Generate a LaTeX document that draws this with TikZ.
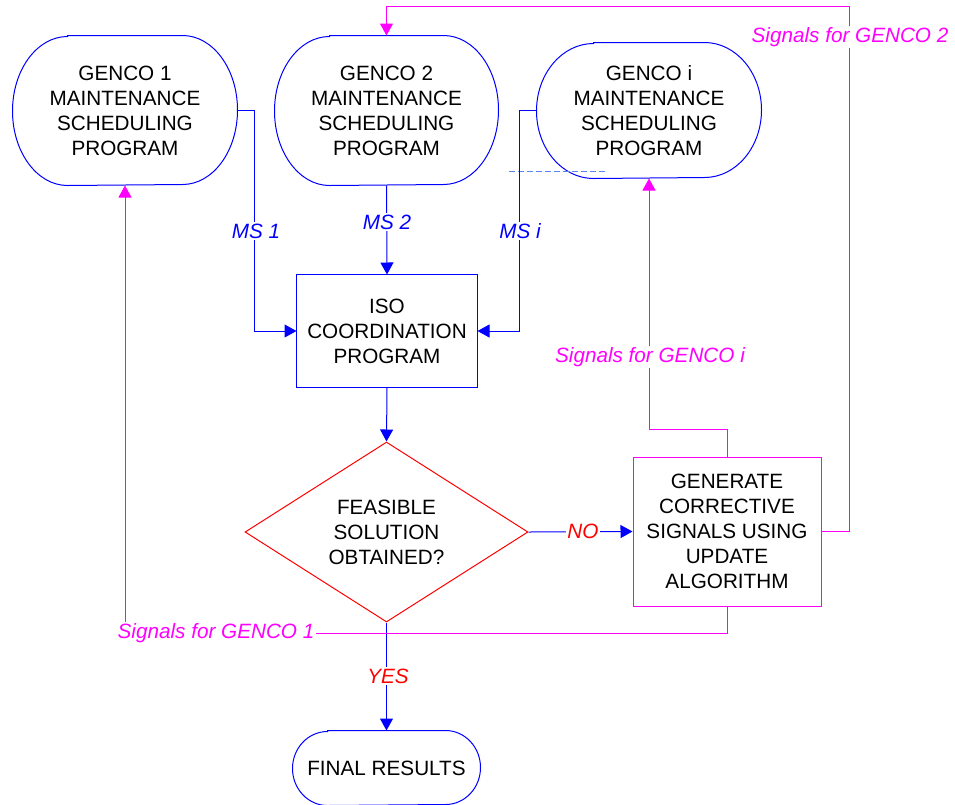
\documentclass[tikz,border=0pt]{standalone}
\usepackage{fontspec}
\setmainfont{Liberation Sans}
\usetikzlibrary{arrows.meta,shapes.geometric}
\definecolor{mag}{RGB}{255,0,255}
\definecolor{dashc}{RGB}{90,130,240}
\definecolor{bl}{RGB}{0,0,255}
\newcommand\stadout[3]{\draw[draw=bl] ([xshift=#2pt]#1.north west) -- ([xshift=-#2pt]#1.north east) arc[start angle=90,end angle=-90,x radius=#2pt,y radius=#3pt] -- ([xshift=#2pt]#1.south west) arc[start angle=270,end angle=90,x radius=#2pt,y radius=#3pt] -- cycle;}
\begin{document}
\begin{tikzpicture}[x=1pt,y=-1pt,line width=1pt,
  every node/.style={font=\fontsize{20.7}{25}\selectfont, text=black, align=center, inner sep=0pt},
  prog/.style={rectangle, minimum width=224pt, minimum height=149pt},
  isobox/.style={rectangle, minimum width=180pt, minimum height=112pt},
  genbox/.style={rectangle, draw=mag, minimum width=188pt, minimum height=149pt},
  decis/.style={diamond, draw=red, aspect=1.57, minimum width=283pt, minimum height=180pt},
  bline/.style={draw=bl, -{Triangle[length=12pt,width=13pt]}},
  mline/.style={draw=mag, -{Triangle[length=12pt,width=13pt]}},
  lbl/.style={font=\fontsize{20.7}{25}\selectfont\itshape, fill=white, inner sep=1.5pt},
  blbl/.style={lbl, text=bl},
  mlbl/.style={lbl, text=mag},
  rlbl/.style={lbl, text=red}]
\useasboundingbox (0,0) rectangle (955,804);
% nodes
\node[prog] (g1) at (125,110.5) {GENCO 1\\MAINTENANCE\\SCHEDULING\\PROGRAM};
\node[prog, minimum width=223pt] (g2) at (386.5,110.5) {GENCO 2\\MAINTENANCE\\SCHEDULING\\PROGRAM};
\node[prog, minimum height=135pt] (gi) at (649,110.5) {GENCO i\\MAINTENANCE\\SCHEDULING\\PROGRAM};
\node[isobox] (iso) at (387,331) {ISO\\COORDINATION\\PROGRAM};
\draw[draw=bl] (iso.north west) rectangle (iso.south east);
\node[decis] (feas) at (386.5,532) {FEASIBLE\\SOLUTION\\OBTAINED?};
\node[genbox] (gen) at (727,531.5) {GENERATE\\CORRECTIVE\\SIGNALS USING\\UPDATE\\ALGORITHM};
\node[prog, minimum width=187pt, minimum height=74pt] (fin) at (386.5,768) {FINAL RESULTS};
\stadout{g1}{55}{74.5}
\stadout{g2}{55}{74.5}
\stadout{gi}{57}{67.5}
\stadout{fin}{35}{37}
% stray dashed line
\draw[draw=dashc, dash pattern=on 6pt off 3pt] (509,171) -- (605,171);
% blue connectors
\draw[bline] (g1.east) -| ([xshift=-42pt]iso.west) -- (iso.west);
\draw[bline] (gi.west) -| ([xshift=42pt]iso.east) -- (iso.east);
\draw[bline] (g2.south) -- (iso.north);
\draw[bline] (iso.south) -- (feas.north);
\draw[bline] (feas.east) -- (gen.west);
\draw[bline] (feas.south) -- (fin.north);
% magenta connectors
\draw[mline] (gen.east) -- ++(28,0) |- ([yshift=29pt]g2.north) -- (g2.north);
\draw[mline] (gen.north) -- ++(0,-27) -| (gi.south);
\draw[mline] (gen.south) -- ++(0,27) -| (g1.south);
% labels
\node[blbl] (ms1) at (256,231) {MS 1};
\node[blbl] (ms2) at (387,222) {MS 2};
\node[blbl] (msi) at (520,231) {MS i};
\node[mlbl] (s2) at (850,37) {Signals for GENCO 2};
\node[mlbl] (si) at (650,357) {Signals for GENCO i};
\node[mlbl] (s1) at (216,633) {Signals for GENCO 1};
\node[rlbl] (no) at (583,531) {NO};
\node[rlbl] (yes) at (388,676) {YES};
\end{tikzpicture}
\end{document}
